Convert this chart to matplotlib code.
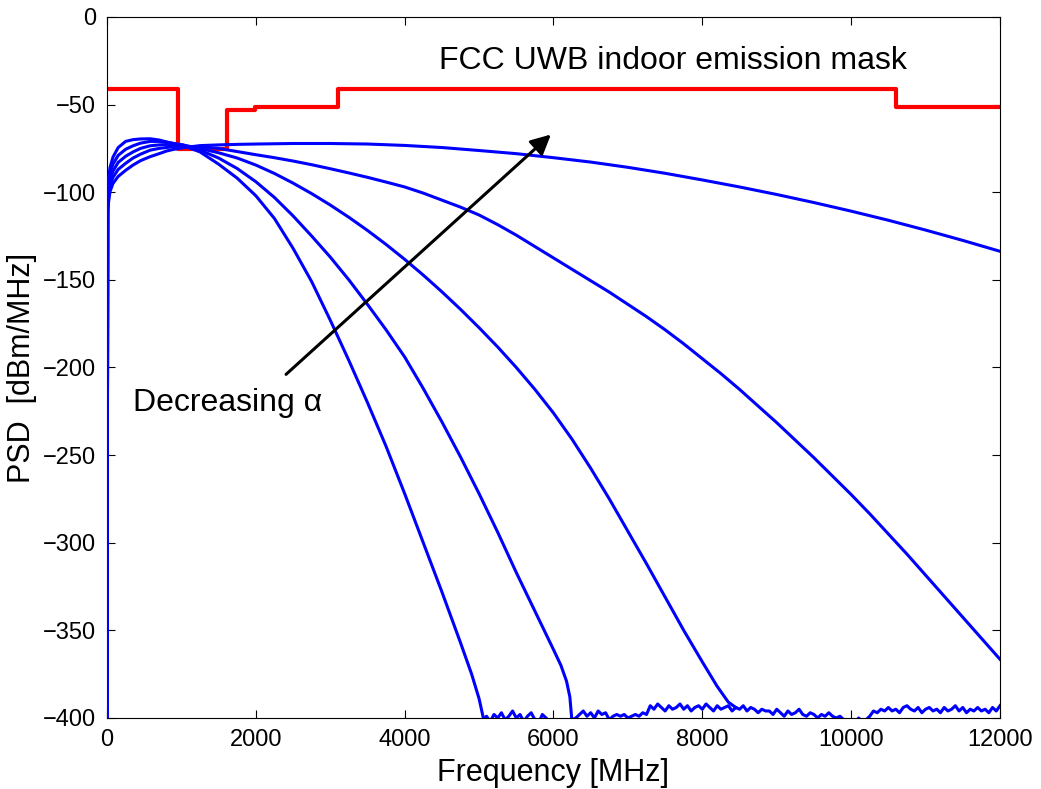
import numpy as np
import matplotlib
matplotlib.use('Agg')
import matplotlib.pyplot as plt

plt.rcParams['font.family'] = ['Liberation Sans', 'DejaVu Sans']

# FCC indoor mask (MHz, dBm/MHz)
mask_f = [0, 960, 960, 1610, 1610, 1990, 1990, 3100, 3100, 10600, 10600, 12000]
mask_v = [-41.3, -41.3, -75.3, -75.3, -53.3, -53.3, -51.3, -51.3, -41.3, -41.3, -51.3, -51.3]

# low frequency part, shared by all curves
f_low = [0, 10, 20, 40, 80, 150, 250, 350, 450, 580, 700, 800, 900, 1025]

# pulse PSD curves, widest band (a) to narrowest (e)
fa = f_low + [1250, 1500, 1750, 2000, 2500, 3000, 3500, 4000, 4500, 5000, 5500, 6000, 6500, 7000,
              7500, 8000, 8500, 9000, 9500, 10000, 10500, 11000, 11500, 12000]
va = [-400, -112, -106, -99.7, -95, -91, -87.5, -84.5, -82, -79.7, -78, -76.5, -75.5, -74.6,
      -73.4, -73, -72.7, -72.5, -72.2, -72.2, -72.5, -73.3, -74.5, -76.2, -78, -80.3, -82.8, -85.8,
      -89.2, -93, -97, -101.3, -105.9, -110.8, -116, -121.6, -127.5, -133.7]

fb = f_low + [1250, 1500, 1750, 2000, 2250, 2500, 2750, 3000, 3250, 3500, 3750, 4000, 4250, 4500, 4750,
              5000, 5250, 5500, 5750, 6000, 6250, 6500, 6750, 7000, 7250, 7500, 7750, 8000, 8250, 8500,
              8750, 9000, 9250, 9500, 9750, 10000, 10250, 10500, 10750, 11000, 11250, 11500, 11750, 12000]
vb = [-400, -108, -102, -96, -91.5, -87, -83.5, -80.5, -78.3, -76, -75, -74.5, -74, -73.8,
      -74, -75, -76.8, -78.6, -80.3, -82.2, -84.3, -86.6, -89, -91.5, -94.2, -97, -100.5, -104.5, -108.5,
      -113, -118.5, -124.5, -131, -137.5, -144, -150.5, -157, -164, -171, -178.5, -186.5, -195, -203.5, -212.5,
      -222, -231.5, -241.5, -251.5, -262, -272.5, -283.5, -295, -306.5, -318.5, -330.5, -342.5, -354.5, -366.5]

fc = f_low + [1250, 1500, 1750, 2000, 2250, 2500, 2750, 3000, 3250, 3500, 3750, 4000, 4250, 4500, 4750,
              5000, 5250, 5500, 5750, 6000, 6250, 6500, 6750, 7000, 7250, 7500, 7750, 8000, 8200, 8350, 8450]
vc = [-400, -105, -99, -93, -88, -83, -79.5, -77, -75, -73.5, -73, -72.8, -72.9, -73.2,
      -75, -77.5, -80.5, -84.5, -89.3, -94.8, -100.8, -107.3, -114.3, -121.8, -129.8, -138.3, -147.3, -156.8, -166.8,
      -177.3, -188.3, -200, -212.5, -226, -241, -257.5, -275, -293.5, -312, -331, -350, -368, -382, -391, -394]

fd = f_low + [1250, 1500, 1750, 2000, 2250, 2500, 2750, 3000, 3250, 3500, 3750, 4000, 4250, 4500, 4750,
              5000, 5250, 5500, 5750, 6000, 6100, 6175, 6220, 6244]
vd = [-400, -101, -95.5, -89.5, -84, -79, -75.5, -73.5, -72, -71, -71, -71.5, -72.2, -73,
      -76, -80.5, -86.5, -94, -103, -113.5, -125, -137, -150, -164, -178.5, -194, -212, -231, -251,
      -272, -294, -317, -339, -361, -370, -379, -388, -400]

fe = f_low + [1250, 1500, 1750, 2000, 2250, 2500, 2750, 3000, 3250, 3500, 3750, 4000, 4250, 4500, 4750,
              4900, 5000, 5057]
ve = [-400, -98, -92, -86, -80, -74.5, -71, -70, -69.6, -69.5, -70.2, -71.3, -72.3, -73.5,
      -77, -84, -92, -102, -115, -132, -151, -173, -196, -220, -245, -272, -300, -328, -357,
      -375, -389, -400]

# numerical noise floor, 50 MHz steps from 5050 to 12000
floor_v = [-401, -399, -402, -398, -400, -397, -401, -399, -396, -400, -398, -402, -399, -397, -401, -403, -398, -400, -402, -401,
           -402, -403, -402, -404, -401, -400,
           -398, -396, -399, -397, -400, -396, -398, -397, -401, -399, -398,
           -399, -398, -400, -399, -398, -399, -397, -398,
           -393, -395, -392, -394, -396, -393, -395, -394, -392, -395, -393, -396, -394, -393, -395, -392,
           -394, -396, -393, -395, -394, -393, -396, -394, -395, -393, -396, -394, -395, -397, -395, -396,
           -396, -398, -395, -397, -399, -396, -398, -397, -395, -398, -399, -397, -398, -400, -398, -399,
           -397, -399, -400, -399, -401,
           -402, -401, -403, -400, -402, -401, -399,
           -396, -397, -395, -396, -394, -396, -395, -397, -394, -393, -395, -396, -394, -397, -395, -394,
           -396, -395, -397, -394, -396, -395, -393, -396, -394, -397, -395, -396, -394, -396, -395, -397,
           -394, -396, -393]
floor_f = np.arange(5050, 12001, 50)[:len(floor_v)]

fig = plt.figure(figsize=(10.41, 7.89), dpi=100)
ax = fig.add_axes([0.1028, 0.09, 0.8578, 0.8885])

ax.plot(mask_f, mask_v, color='#ff0000', lw=3.0, zorder=2)
for f, v in [(fa, va), (fb, vb), (fc, vc), (fd, vd), (fe, ve)]:
    ax.plot(f, v, color='#0000ff', lw=2.2, zorder=3)
ax.plot(floor_f, floor_v, color='#0000ff', lw=2.2, zorder=3)

ax.annotate('', xy=(5993, -66), xytext=(2378, -205),
            arrowprops=dict(arrowstyle='-|>', color='black', lw=2.2, mutation_scale=30))
ax.text(349, -220, 'Decreasing α', fontsize=23, va='center', ha='left')
ax.text(7606, -25, 'FCC UWB indoor emission mask', fontsize=23, va='center', ha='center')

ax.set_xlim(0, 12000)
ax.set_ylim(-400, 0)
ax.set_xticks(range(0, 12001, 2000))
ax.set_yticks(range(-400, 1, 50))
ax.tick_params(direction='in', top=True, right=True, length=6, labelsize=17, pad=8)
ax.set_xlabel('Frequency [MHz]', fontsize=22, labelpad=5)
ax.set_ylabel('PSD  [dBm/MHz]', fontsize=22, labelpad=4)

fig.savefig('out.png', dpi=100)
